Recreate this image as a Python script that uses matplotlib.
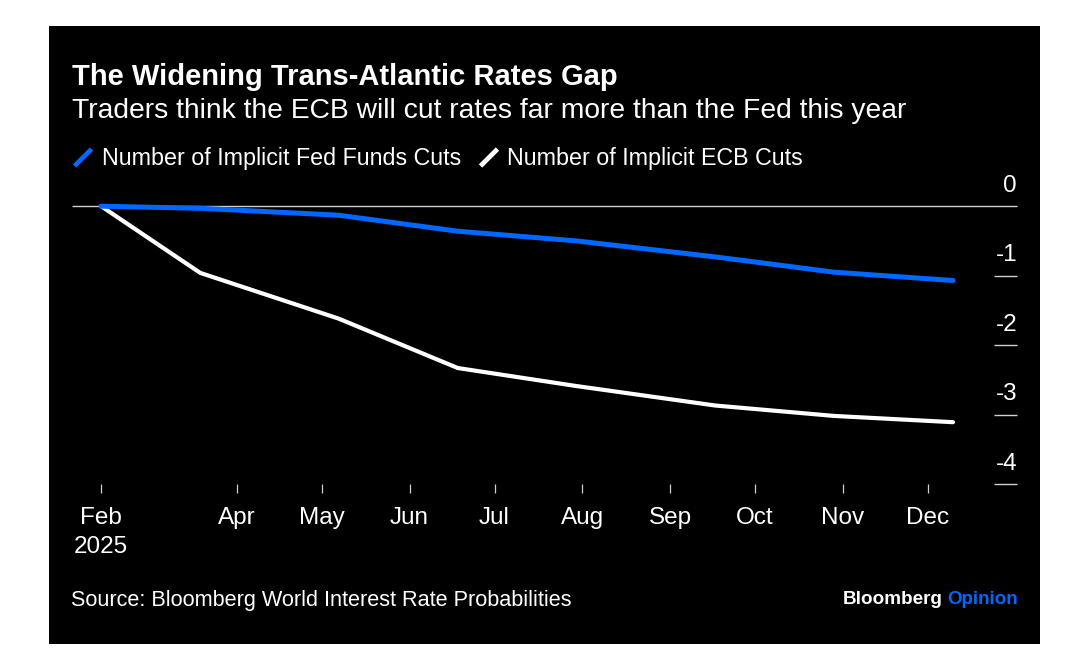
import matplotlib
matplotlib.use("Agg")
import matplotlib.pyplot as plt
import matplotlib.dates as mdates
from matplotlib.lines import Line2D
from matplotlib.patches import Rectangle
import numpy as np

plt.rcParams['font.family'] = ['Liberation Sans', 'DejaVu Sans']

# ---- data ----
dates = ["2025-02-12", "2025-03-19", "2025-05-07", "2025-06-18",
         "2025-07-30", "2025-09-17", "2025-10-29", "2025-12-10"]
fed_cuts = [0, -0.03, -0.13, -0.36, -0.50, -0.73, -0.95, -1.07]
ecb_cuts = [0, -0.96, -1.62, -2.33, -2.59, -2.87, -3.02, -3.11]
fed_label = "Number of Implicit Fed Funds Cuts"
ecb_label = "Number of Implicit ECB Cuts"
tick_dates = ["2025-02-12", "2025-04-01", "2025-05-01", "2025-06-01", "2025-07-01",
              "2025-08-01", "2025-09-01", "2025-10-01", "2025-11-01", "2025-12-01"]
tick_labels = ["Feb\n2025", "Apr", "May", "Jun", "Jul", "Aug", "Sep", "Oct", "Nov", "Dec"]
y_ticks = [0, -1, -2, -3, -4]
title = "The Widening Trans-Atlantic Rates Gap"
subtitle = "Traders think the ECB will cut rates far more than the Fed this year"
source = "Source: Bloomberg World Interest Rate Probabilities"

BLUE = "#0068FF"
W, H = 1078, 654
fig = plt.figure(figsize=(W / 100, H / 100), dpi=100, facecolor="white")

def fx(p): return p / W
def fy(p): return 1 - p / H

fig.add_artist(Rectangle((fx(49), fy(644)), (1040 - 49) / W, (644 - 26) / H,
                         transform=fig.transFigure, facecolor="black", edgecolor="none", zorder=-5))

L, R, T, B = 72, 1017, 206.2, 484
ax = fig.add_axes([fx(L), fy(B), (R - L) / W, (B - T) / H])
ax.patch.set_alpha(0)

x = mdates.date2num(np.array(dates, dtype="datetime64[D]"))
xt = mdates.date2num(np.array(tick_dates, dtype="datetime64[D]"))

# axis range chosen so that Apr 1 -> px 237, Dec 10 -> px 953
d0 = mdates.date2num(np.datetime64("2025-04-01"))
scale = (953 - 237) / (x[-1] - d0)
ax.set_xlim(d0 + (L - 237) / scale, d0 + (R - 237) / scale)
ax.set_ylim(-4, 0)

for s in ax.spines.values():
    s.set_visible(False)

for v in y_ticks:
    x0 = 0 if v == 0 else (994 - L) / (R - L)
    ax.plot([x0, 1], [v, v], transform=ax.get_yaxis_transform(), color="#cfcfcf",
            lw=1.0, zorder=1, clip_on=False, solid_capstyle="butt")
    ax.annotate(f"{v}", xy=(1, v), xycoords=ax.get_yaxis_transform(),
                xytext=(0, 14.5 * 0.72), textcoords="offset points",
                ha="right", va="baseline", color="white", fontsize=17.5)

ax.set_yticks([])
ax.set_xticks(xt)
ax.set_xticklabels(tick_labels, color="white", fontsize=17.5, linespacing=1.42)
ax.tick_params(axis="x", length=9 * 0.72, width=0.9, color="#cfcfcf", pad=10)

ax.plot(x, fed_cuts, color=BLUE, lw=3.6, solid_capstyle="round", solid_joinstyle="round", zorder=4, clip_on=False)
ax.plot(x, ecb_cuts, color="white", lw=3.0, solid_capstyle="round", solid_joinstyle="round", zorder=3, clip_on=False)

def txt(px, py, s, **kw):
    return fig.text(fx(px), fy(py), s, ha=kw.pop("ha", "left"), va="baseline", **kw)

txt(72, 85, title, color="white", fontsize=21, fontweight="bold")
txt(72, 118, subtitle, color="white", fontsize=20.33)

for x0, tx, lab, col in [(73, 102, fed_label, BLUE), (479, 507, ecb_label, "white")]:
    fig.add_artist(Line2D([fx(x0 + 1.5), fx(x0 + 18.5)], [fy(166), fy(149)], transform=fig.transFigure,
                          color=col, lw=3.4, solid_capstyle="butt"))
    txt(tx, 165, lab, color="white", fontsize=16.75)

txt(71, 606, source, color="white", fontsize=15.6)
txt(843, 604, "Bloomberg", color="white", fontsize=13.6, fontweight="bold")
txt(947, 604, "Opinion", color=BLUE, fontsize=13.5, fontweight="bold")

fig.savefig("out.png", dpi=100, facecolor="white")
